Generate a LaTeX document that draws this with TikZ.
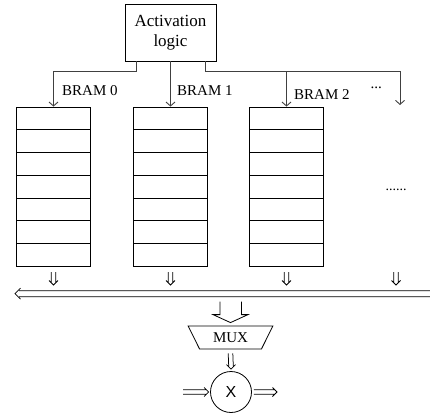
\documentclass[tikz,border=0pt]{standalone}
\usepackage{fontspec}
\setmainfont{Liberation Serif}
\newfontfamily\arialx{Liberation Sans}
\usetikzlibrary{arrows.meta,shapes.geometric,calc}
\newcommand\dblDown[2]{\draw[dl] let \p1=(#1), \p2=(#2) in
  (\x1-2.3pt,\y1) -- (\x2-2.3pt,\y2+3pt)
  (\x1+2.3pt,\y1) -- (\x2+2.3pt,\y2+3pt)
  (\x2-4.5pt,\y2+4.5pt) -- (\x2,\y2) -- (\x2+4.5pt,\y2+4.5pt);}
\newcommand\dblRight[2]{\draw[dl] let \p1=(#1), \p2=(#2) in
  (\x1,\y1-2.3pt) -- (\x2-3pt,\y2-2.3pt)
  (\x1,\y1+2.3pt) -- (\x2-3pt,\y2+2.3pt)
  (\x2-4.5pt,\y2-4.5pt) -- (\x2,\y2) -- (\x2-4.5pt,\y2+4.5pt);}
\newcommand\dblLeft[2]{\draw[dl] let \p1=(#1), \p2=(#2) in
  (\x1,\y1-3pt) -- (\x2+4pt,\y2-3pt)
  (\x1,\y1+3pt) -- (\x2+4pt,\y2+3pt)
  (\x2+5.5pt,\y2-5.5pt) -- (\x2,\y2) -- (\x2+5.5pt,\y2+5.5pt);}
\begin{document}
\begin{tikzpicture}[x=1pt,y=-1pt,
  conn/.style={draw=black!75, line width=0.9pt, -{Straight Barb[length=4pt,width=9pt]}},
  bram/.style={draw, line width=0.8pt, minimum width=74pt, minimum height=159pt, inner sep=0pt},
  rowline/.style={draw, line width=0.8pt},
  dl/.style={draw=black, line width=0.75pt, line join=miter},
  lbl/.style={font=\fontsize{15}{17}\selectfont, anchor=west, inner sep=0pt},
]
\useasboundingbox (0,0) rectangle (430,418);
\node[draw, line width=0.8pt, minimum width=91pt, minimum height=57pt, align=center,
  font=\fontsize{17}{20}\selectfont, inner sep=0pt] (act) at (170.5,32.5) {Activation\\logic};
\node[bram] (b0) at (53.5,186.5) {};
\node[bram] (b1) at (170.5,186.5) {};
\node[bram] (b2) at (286.5,186.5) {};
\foreach \b in {b0,b1,b2}{
  \foreach \i in {1,...,6}{
    \draw[rowline] ($(\b.north west)!\i/7!(\b.south west)$) -- ($(\b.north east)!\i/7!(\b.south east)$);
  }
}
\coordinate (jr) at (0,71);
\coordinate (endR) at (400,105);
\draw[conn] ([xshift=-34.5pt]act.south) -- ++(0,10) -| (b0.north);
\draw[conn] (act.south) -- (b1.north);
\draw[conn] ([xshift=34.5pt]act.south) -- ++(0,10) -| (endR);
\draw[conn] (b2.north |- jr) -- (b2.north);
\node[lbl] (l0) at (62,91) {BRAM 0};
\node[lbl] (l1) at (177,91) {BRAM 1};
\node[lbl] (l2) at (294,94.5) {BRAM 2};
\node[anchor=base west, inner sep=0pt, font=\fontsize{15}{17}\selectfont] (dots) at (370.5,88.5) {...};
\node[anchor=base, inner sep=0pt, font=\fontsize{14}{16}\selectfont] (dots2) at (396,190.5) {......};
\foreach \k/\x in {0/53.5,1/170.5,2/286.5,3/396}{
  \coordinate (dt\k) at (\x,272);
  \coordinate (db\k) at (\x,285);
  \dblDown{dt\k}{db\k}
}
\coordinate (busR) at (432,293.7);
\coordinate (busL) at (15,293.7);
\dblLeft{busR}{busL}
\node[trapezium, draw, line width=0.8pt, shape border rotate=180, trapezium stretches=true,
  minimum width=85pt, minimum height=23pt, trapezium left angle=57, trapezium right angle=57,
  font=\fontsize{15}{17}\selectfont, inner sep=0pt] (mux) at (230.5,337.5) {MUX};
\draw[line width=0.8pt] ($(mux.north)+(-10.5,-24)$) -- ($(mux.north)+(-10.5,-11)$) -- ($(mux.north)+(-17.5,-11)$)
  -- ($(mux.north)+(0,-3)$) -- ($(mux.north)+(17.5,-11)$) -- ($(mux.north)+(11,-11)$) -- ($(mux.north)+(11,-24)$);
\node[circle, draw, line width=0.8pt, minimum size=41pt, inner sep=0pt,
  font=\arialx\fontsize{16}{18}\selectfont] (mul) at (231,392) {X};
\coordinate (mt) at ($(mux.south)+(0,4)$);
\coordinate (mb) at ($(mul.north)+(0,-2)$);
\dblDown{mt}{mb}
\coordinate (inL) at (183,392);
\coordinate (inR) at ($(mul.west)+(-1.5,0)$);
\coordinate (outL) at ($(mul.east)+(2,0)$);
\coordinate (outR) at (277,392);
\dblRight{inL}{inR}
\dblRight{outL}{outR}
\end{tikzpicture}
\end{document}
